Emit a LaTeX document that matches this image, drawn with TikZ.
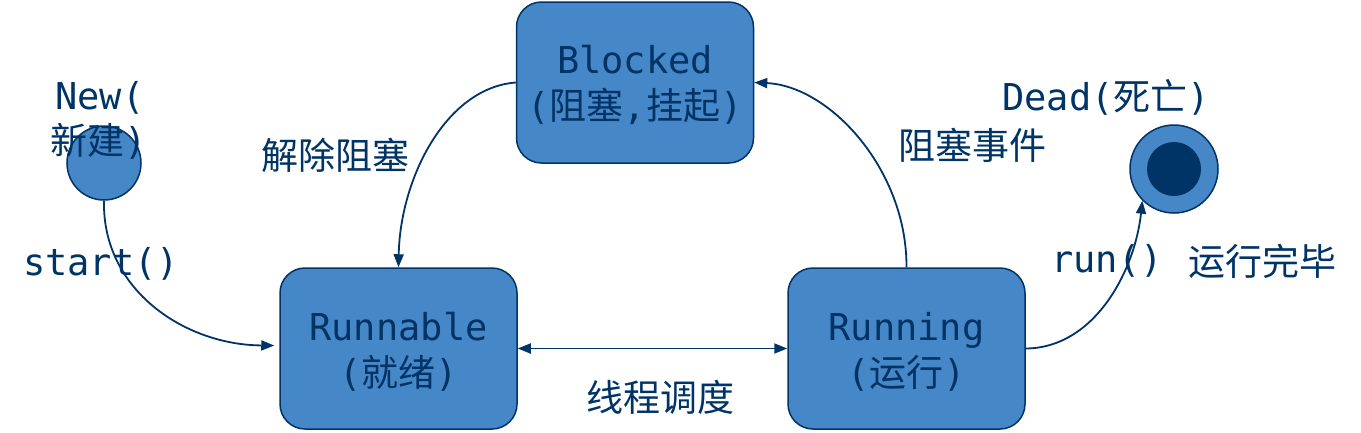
\documentclass[tikz,border=0pt]{standalone}
\usepackage{fontspec}
\newfontfamily\monof{DejaVu Sans Mono}
\newfontfamily\cjk{Noto Sans CJK SC}
\usetikzlibrary{arrows.meta}
\definecolor{fillb}{HTML}{4587C7}
\definecolor{navy}{HTML}{003366}
\newcommand\topstrut{\rule{0pt}{34pt}}
\begin{document}
\begin{tikzpicture}[x=1pt,y=-1pt,
  state/.style={draw=navy, line width=1.5pt, fill=fillb, rounded corners=25pt,
    minimum width=237pt, minimum height=161pt, align=center, text=navy,
    font=\fontsize{37}{46}\selectfont\monof, inner sep=0pt},
  lbl/.style={text=navy, font=\fontsize{37}{44}\selectfont\monof, inner sep=0pt},
  tipa/.tip={Triangle[length=13pt,width=10pt]},
  conn/.style={draw=navy, line width=1.8pt, -tipa},
  dconn/.style={draw=navy, line width=1.8pt, tipa-tipa},
]
\useasboundingbox (0,0) rectangle (1361,432);

\node[state] (blk) at (635,82.5) {\topstrut Blocked\\{(}{\cjk 阻塞}{,}{\cjk 挂起}{)}};
\node[state] (run) at (398.5,348.5) {\topstrut Runnable\\{(}{\cjk 就绪}{)}};
\node[state] (rng) at (906.5,348.5) {\topstrut Running\\{(}{\cjk 运行}{)}};

\node[circle, draw=navy, fill=fillb, line width=1.5pt, minimum size=74pt, inner sep=0pt] (new) at (104,163) {};
\node[circle, draw=navy, fill=fillb, line width=1.5pt, minimum size=88pt, inner sep=0pt] (dead) at (1174,169) {};
\node[circle, fill=navy, minimum size=54pt, inner sep=0pt] (deadin) at (dead.center) {};

\node[lbl] (newa) at (100,98) {New(};
\node[lbl] (newb) at (99,141) {{\cjk 新建})};
\node[lbl] (deadl) at (1106,97) {Dead({\cjk 死亡})};

\node[lbl] (l1) at (335,155) {\cjk 解除阻塞};
\node[lbl] (l2) at (972,145) {\cjk 阻塞事件};
\node[lbl] (l3) at (101,264) {start()};
\node[lbl] (l4) at (1107,261) {run()};
\node[lbl] (l5) at (1262,261) {\cjk 运行完毕};
\node[lbl] (l6) at (660,397) {\cjk 线程调度};

\draw[conn] (new.south) .. controls (102,290) and (185,345) .. ([shift={(-5,-3)}]run.west);
\draw[conn] (blk.west) .. controls (445,88) and (400,180) .. (run.north);
\draw[conn] (rng.north) .. controls (907,170) and (830,86) .. (blk.east);
\draw[dconn] (run.east) -- (rng.west);
\draw[conn] (rng.east) .. controls (1095,348) and (1135,270) .. (dead.south west);
\end{tikzpicture}
\end{document}
